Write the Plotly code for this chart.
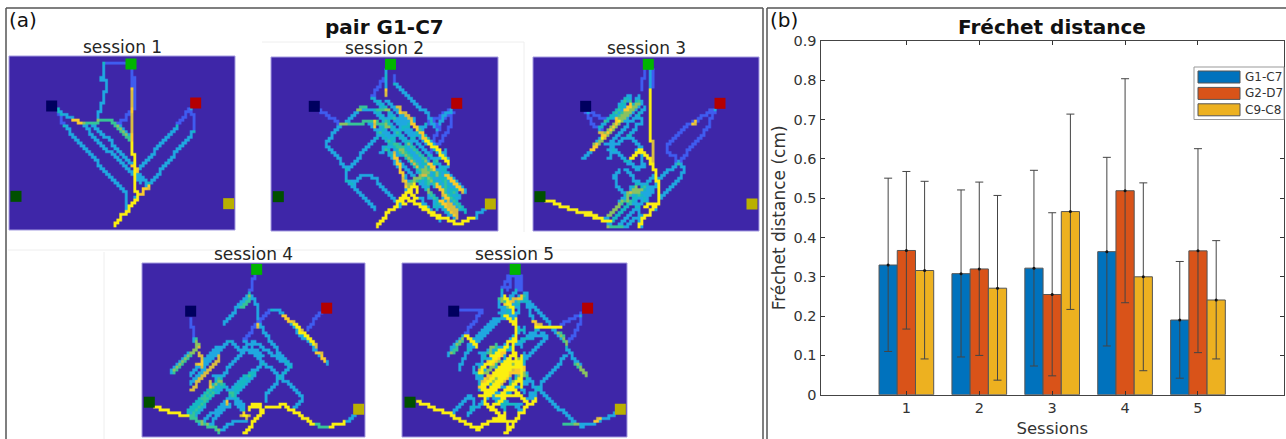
import plotly.graph_objects as go

W, H = 1286, 439
FONT = "DejaVu Sans"
TXT = "#333333"

# ---------- bar chart data ----------
SESSIONS = [1, 2, 3, 4, 5]
SERIES = ["G1-C7", "G2-D7", "C9-C8"]
SERIES_COL = ["#0072BD", "#D95319", "#EDB120"]
G1C7 = [0.330, 0.308, 0.322, 0.364, 0.190]
G2D7 = [0.367, 0.320, 0.255, 0.519, 0.366]
C9C8 = [0.316, 0.271, 0.466, 0.300, 0.241]
G1C7_LO = [0.110, 0.096, 0.073, 0.124, 0.042]
G2D7_LO = [0.167, 0.100, 0.048, 0.234, 0.107]
C9C8_LO = [0.091, 0.037, 0.217, 0.061, 0.091]
G1C7_HI = [0.551, 0.521, 0.571, 0.604, 0.339]
G2D7_HI = [0.568, 0.541, 0.463, 0.804, 0.626]
C9C8_HI = [0.543, 0.507, 0.714, 0.539, 0.392]
YTICKS = [0, 0.1, 0.2, 0.3, 0.4, 0.5, 0.6, 0.7, 0.8, 0.9]
YLABELS = ["0", "0.1", "0.2", "0.3", "0.4", "0.5", "0.6", "0.7", "0.8", "0.9"]

TARGET_NAMES = ["navy", "green", "red", "dkgreen", "olive"]
TARGET_COL = ["#00005F", "#00B400", "#B40000", "#005000", "#B9B000"]

S1_TARGETS = [(155, 318), (393, 192), (587, 309), (48, 589), (686, 611)]
S1_BLUE = [[(393, 208), (393, 265)], [(405, 235), (408, 310), (398, 335), (352, 378)], [(170, 330), (190, 380)],
           [(570, 325), (535, 380)], [(575, 330), (585, 395)], [(375, 190), (315, 192)]]
S1_CYAN = [[(315, 192), (315, 215), (305, 240), (318, 245), (315, 280), (305, 325), (290, 360)],
           [(190, 380), (375, 585), (375, 630)], [(170, 330), (240, 372), (420, 545)], [(280, 375), (445, 555)],
           [(535, 380), (415, 515)], [(585, 395), (440, 565), (405, 600)], [(352, 378), (395, 410), (395, 432)]]
S1_GREEN = [[(240, 372), (290, 368), (310, 358), (325, 360), (350, 382), (395, 432)]]
S1_ORANGE = [[(392, 265), (392, 430)], [(215, 358), (240, 372)], [(420, 582), (445, 555)], [(398, 495), (410, 515)]]
S1_YELLOW = [[(398, 432), (402, 510), (410, 600), (345, 678)]]

S2_TARGETS = [(163, 228), (392, 102), (591, 219), (55, 499), (692, 521)]
S2_BLUE = [[(178, 238), (245, 285)], [(380, 135), (335, 200)], [(405, 135), (405, 165)], [(577, 235), (500, 285)],
           [(577, 235), (530, 300)], [(580, 250), (565, 310), (490, 400)], [(560, 250), (520, 330)]]
S2_CYAN = [[(380, 120), (380, 175)], [(245, 285), (195, 345), (260, 415), (262, 455), (280, 458), (310, 432), (325, 432), (420, 525)],
           [(245, 285), (300, 235), (340, 235)], [(260, 415), (350, 320)], [(262, 455), (345, 540)],
           [(405, 165), (510, 265), (520, 290)], [(335, 205), (570, 400)], [(340, 240), (600, 500)], [(350, 215), (620, 490)],
           [(360, 290), (600, 540)], [(370, 350), (580, 560)], [(400, 340), (620, 545)], [(330, 280), (520, 470)],
           [(380, 360), (450, 470)], [(355, 250), (590, 480)], [(470, 450), (560, 360)], [(440, 480), (530, 390)],
           [(500, 460), (570, 390)], [(520, 530), (600, 470)], [(360, 370), (460, 260)], [(400, 380), (500, 280)],
           [(640, 560), (678, 535)], [(470, 500), (540, 570)], [(500, 480), (570, 565)], [(410, 345), (475, 410)],
           [(380, 215), (510, 340)], [(365, 310), (500, 450)], [(430, 350), (560, 480)], [(450, 340), (590, 500)], [(400, 260), (350, 320)],
           [(510, 425), (510, 500)], [(490, 440), (530, 540)], [(555, 420), (555, 530)], [(575, 500), (620, 550)], [(470, 290), (520, 345)]]
S2_GREEN = [[(240, 285), (290, 282), (330, 270), (385, 290)], [(290, 235), (320, 232)], [(350, 235), (390, 235)], [(440, 470), (500, 410)]]
S2_ORANGE = [[(380, 175), (380, 195)], [(410, 230), (440, 258), (470, 300)], [(400, 370), (440, 470)], [(530, 460), (590, 550)],
             [(340, 270), (345, 290)], [(480, 310), (500, 330)], [(510, 400), (520, 415)], [(560, 435), (610, 490)], [(540, 510), (590, 560)]]
S2_YELLOW = [[(350, 590), (415, 510), (440, 505), (500, 540), (570, 575), (600, 578), (640, 560)], [(500, 330), (565, 400)],
             [(415, 510), (465, 465), (470, 490)], [(445, 490), (470, 505)], [(420, 510), (440, 520)], [(480, 528), (540, 565)]]

S3_TARGETS = [(182, 228), (370, 102), (585, 219), (45, 499), (681, 521)]
S3_BLUE = [[(360, 120), (350, 175)], [(380, 120), (380, 170)], [(185, 245), (200, 285), (230, 295)], [(190, 245), (240, 270)],
           [(568, 235), (495, 285), (430, 350), (430, 365), (460, 400)], [(570, 235), (548, 300), (460, 400)]]
S3_CYAN = [[(460, 400), (405, 450)], [(460, 400), (480, 425), (405, 510)], [(375, 120), (375, 175)], [(175, 385), (350, 210)],
           [(210, 345), (345, 195)], [(220, 300), (310, 195)], [(240, 345), (360, 230)], [(245, 360), (310, 315), (350, 270), (340, 245)],
           [(310, 315), (350, 355)], [(265, 360), (330, 420), (355, 400), (345, 355)], [(250, 385), (265, 360)], [(300, 395), (345, 355)],
           [(285, 420), (265, 440), (275, 470), (340, 540), (350, 570)], [(240, 560), (340, 450)], [(260, 570), (370, 460)],
           [(285, 580), (385, 480)], [(245, 590), (390, 430)], [(300, 590), (330, 560), (350, 590)], [(300, 420), (355, 480)], [(320, 470), (390, 540)],
           [(225, 320), (335, 210)], [(195, 360), (330, 225)], [(330, 510), (390, 460)], [(265, 260), (315, 195)], [(240, 275), (300, 205)]]
S3_GREEN = [[(210, 345), (340, 215)], [(230, 320), (320, 215)], [(250, 590), (290, 590)], [(310, 490), (350, 480)], [(250, 555), (335, 470)]]
S3_ORANGE = [[(380, 335), (382, 390)], [(225, 310), (235, 325)], [(270, 265), (280, 275)], [(300, 235), (315, 220)], [(500, 280), (515, 270)], [(200, 355), (215, 340)]]
S3_YELLOW = [[(373, 175), (373, 330)], [(345, 355), (385, 410), (398, 460), (398, 520), (340, 590)], [(65, 510), (230, 570), (255, 570)],
             [(320, 380), (345, 355)], [(360, 525), (398, 520)], [(190, 550), (240, 572)]]

S4_TARGETS = [(182, 214), (380, 89), (590, 205), (58, 486), (686, 507)]
S4_BLUE = [[(373, 105), (362, 160)], [(183, 232), (188, 290)], [(572, 222), (535, 272)], [(425, 208), (385, 250), (340, 300)]]
S4_CYAN = [[(362, 160), (285, 250)], [(362, 165), (385, 210), (385, 240)], [(385, 250), (480, 385)], [(425, 208), (460, 225), (590, 375)],
           [(188, 295), (205, 320), (120, 400)], [(265, 320), (180, 410)], [(300, 305), (180, 430)], [(300, 305), (340, 340), (175, 520)],
           [(170, 520), (270, 410)], [(175, 522), (272, 414)], [(180, 525), (275, 420)], [(185, 526), (278, 425)], [(190, 525), (280, 430)],
           [(345, 320), (520, 470), (520, 485), (490, 500)], [(470, 400), (405, 465), (410, 485)], [(370, 305), (480, 385), (470, 400)],
           [(400, 375), (300, 470), (350, 530)], [(250, 410), (345, 510)], [(340, 305), (400, 350)], [(210, 550), (300, 470)], [(230, 555), (300, 490)],
           [(270, 570), (320, 540), (350, 540)], [(640, 545), (672, 525)], [(300, 455), (360, 395)], [(310, 465), (375, 400)], [(305, 445), (365, 390)]]
S4_GREEN = [[(330, 205), (360, 170)], [(180, 535), (270, 575)], [(550, 555), (600, 560)], [(195, 300), (205, 320)], [(205, 325), (130, 395)]]
S4_ORANGE = [[(460, 225), (560, 320)], [(180, 450), (270, 350)], [(210, 340), (213, 360)], [(200, 370), (215, 380)], [(245, 420), (245, 440)],
             [(290, 480), (288, 495)], [(340, 520), (350, 535)], [(380, 250), (385, 260)], [(560, 335), (585, 365)], [(335, 525), (355, 530)]]
S4_YELLOW = [[(345, 578), (375, 535), (395, 510), (375, 490), (360, 510)], [(410, 500), (460, 495), (500, 520), (550, 555)],
             [(600, 558), (640, 545)], [(75, 500), (120, 517), (175, 528)], [(385, 490), (400, 515)], [(490, 255), (550, 310)]]

S5_TARGETS = [(191, 214), (375, 89), (592, 205), (60, 486), (690, 507)]
S5_BLUE = [[(355, 105), (335, 155)], [(365, 105), (355, 150)], [(375, 105), (375, 155)], [(385, 105), (385, 150)], [(390, 105), (395, 150)],
           [(208, 212), (262, 208), (275, 220), (225, 285)], [(575, 220), (515, 255)], [(575, 225), (555, 290), (525, 320)]]
S5_CYAN = [[(225, 285), (175, 345)], [(525, 320), (585, 405)], [(530, 350), (420, 470)], [(400, 170), (520, 300)], [(335, 155), (330, 200), (380, 240)],
           [(340, 230), (225, 345), (210, 390)], [(320, 240), (230, 330)], [(400, 300), (460, 280), (470, 295), (390, 380)], [(450, 260), (390, 320)],
           [(400, 400), (450, 460), (550, 550), (575, 558), (615, 545), (675, 520)], [(180, 520), (230, 470), (255, 490), (230, 530)],
           [(260, 370), (360, 470)], [(270, 340), (400, 460)], [(260, 400), (350, 490)], [(290, 330), (400, 430)], [(265, 430), (340, 510)],
           [(300, 320), (400, 410)], [(270, 380), (390, 300)], [(380, 150), (345, 200)], [(410, 160), (345, 230)], [(400, 480), (440, 460)],
           [(275, 360), (285, 340)], [(400, 170), (440, 270)], [(310, 340), (400, 260)], [(265, 410), (370, 310)], [(270, 450), (400, 340)],
           [(300, 500), (410, 395)], [(340, 480), (345, 530)], [(360, 490), (400, 520)], [(240, 510), (290, 470)], [(320, 490), (390, 490)],
           [(250, 380), (270, 440)], [(390, 170), (380, 230)], [(395, 350), (410, 430)], [(350, 200), (400, 180)], [(330, 220), (400, 280)]]
S5_GREEN = [[(500, 275), (530, 310)], [(185, 335), (215, 300)], [(555, 375), (585, 405)], [(520, 555), (560, 555)], [(290, 340), (320, 310)],
            [(330, 180), (365, 210)], [(285, 395), (345, 335)], [(360, 430), (400, 395)], [(300, 420), (350, 380)], [(340, 400), (395, 350)]]
S5_ORANGE = [[(300, 370), (340, 330)], [(430, 245), (450, 260)], [(270, 390), (300, 360)], [(380, 400), (400, 380)], [(610, 545), (630, 535)],
             [(310, 400), (360, 350)], [(265, 440), (310, 395)], [(330, 430), (390, 370)], [(345, 190), (390, 170)]]
S5_YELLOW = [[(80, 485), (180, 525), (260, 565), (300, 540), (340, 520)], [(340, 470), (395, 465), (410, 500), (395, 520), (360, 570), (345, 578)],
             [(310, 510), (350, 550), (350, 580)], [(270, 470), (360, 385)], [(280, 440), (370, 360)], [(265, 400), (330, 330)], [(300, 350), (380, 290)],
             [(380, 240), (370, 340), (395, 400)], [(345, 230), (380, 265)], [(225, 285), (260, 320)], [(275, 430), (290, 500)], [(340, 170), (370, 220)],
             [(300, 440), (380, 370)], [(285, 470), (345, 410)], [(350, 440), (390, 470)], [(440, 258), (510, 258)], [(320, 490), (340, 470)], [(400, 500), (440, 475)],
             [(300, 500), (340, 470)], [(320, 470), (390, 410)], [(290, 420), (370, 340)], [(310, 540), (360, 540)], [(300, 510), (330, 520)], [(390, 350), (395, 440)]]

# Heat levels of a path, on the colour scale of the maps
LEVELS = [1, 2, 4, 6, 8]
PARULA = [[0, "#3E26A8"], [0.125, "#3F5CF0"], [0.25, "#1FA8E0"], [0.42, "#12BEB9"], [0.55, "#4CC880"],
          [0.68, "#B8BE48"], [0.82, "#FABA39"], [1, "#FBF010"]]
GRID_COLS, GRID_ROWS = 80, 61
UPSCALE = 2

SESSION_TITLES = ["session 1", "session 2", "session 3", "session 4", "session 5"]
PANEL_PX = [(9, 56, 235, 230), (271, 57, 498, 231), (533, 57, 759, 231), (142, 263, 365, 437), (402, 263, 627, 437)]
PANEL_WIN = [(27, 690, 705, 168), (33, 602, 715, 80), (24, 602, 702, 80), (36, 590, 705, 70), (36, 590, 710, 70)]
PANEL_TGT = [S1_TARGETS, S2_TARGETS, S3_TARGETS, S4_TARGETS, S5_TARGETS]
PANEL_PATHS = [
    [S1_BLUE, S1_CYAN, S1_GREEN, S1_ORANGE, S1_YELLOW],
    [S2_BLUE, S2_CYAN, S2_GREEN, S2_ORANGE, S2_YELLOW],
    [S3_BLUE, S3_CYAN, S3_GREEN, S3_ORANGE, S3_YELLOW],
    [S4_BLUE, S4_CYAN, S4_GREEN, S4_ORANGE, S4_YELLOW],
    [S5_BLUE, S5_CYAN, S5_GREEN, S5_ORANGE, S5_YELLOW],
]


def px(x):
    return x / W


def py(y):
    return 1 - y / H


def visits(groups, win):
    """Mark the read paths on a visit grid, one cell per path step."""
    xl, yb, xr, yt = win
    cw, ch = (xr - xl) / GRID_COLS, (yb - yt) / GRID_ROWS
    z = [[0] * GRID_COLS for _ in range(GRID_ROWS)]
    for group, level in zip(groups, LEVELS):
        for poly in group:
            seen = set()
            for (ax, ay), (bx, by) in zip(poly, poly[1:]):
                n = int(max(abs(bx - ax) / cw, abs(by - ay) / ch)) + 1
                prev = None
                for k in range(n + 1):
                    c = int((ax + (bx - ax) * k / n - xl) / cw)
                    r = int((ay + (by - ay) * k / n - yt) / ch)
                    cells = [(r, c)]
                    if prev and prev[0] != r and prev[1] != c:
                        cells.append((prev[0], c))  # paths move along grid edges
                    prev = (r, c)
                    for rr, cc in cells:
                        if 0 <= cc < GRID_COLS and 0 <= rr < GRID_ROWS:
                            seen.add((rr, cc))
            for r, c in seen:
                # a crossing only brightens a cell a little
                z[r][c] = max(z[r][c], level) + (1 if z[r][c] else 0)
    # repeat each cell so the browser's smoothing only softens its edge
    fine = [[v for v in row for _ in range(UPSCALE)] for row in z for _ in range(UPSCALE)]
    xs = [xl + (c + 0.5) * cw / UPSCALE for c in range(GRID_COLS * UPSCALE)]
    ys = [yt + (r + 0.5) * ch / UPSCALE for r in range(GRID_ROWS * UPSCALE)]
    return xs, ys, fine


fig = go.Figure()
shapes, annos = [], []

# ---------- right panel: bars ----------
means = [G1C7, G2D7, C9C8]
los = [G1C7_LO, G2D7_LO, C9C8_LO]
his = [G1C7_HI, G2D7_HI, C9C8_HI]
for name, col, vals in zip(SERIES, SERIES_COL, means):
    fig.add_bar(x=SESSIONS, y=vals, name=name, marker=dict(color=col, line=dict(color="#555555", width=1)),
                showlegend=False, xaxis="x", yaxis="y")
OFFSET = [-0.25, 0, 0.25]
for off, vals, lo, hi in zip(OFFSET, means, los, his):
    fig.add_scatter(x=[s + off for s in SESSIONS], y=vals, mode="markers", showlegend=False,
                    marker=dict(color="#111111", size=3),
                    error_y=dict(type="data", symmetric=False,
                                 array=[h - v for h, v in zip(hi, vals)],
                                 arrayminus=[v - l for l, v in zip(lo, vals)],
                                 color="#444444", thickness=1, width=4),
                    xaxis="x", yaxis="y")

layout_axes = dict(
    xaxis=dict(domain=[px(820.5), px(1284)], range=[-0.178, 6.18], anchor="y", tickvals=SESSIONS, automargin=False,
               ticks="inside", ticklen=4, tickcolor="#333", showline=True, linecolor="#444", mirror="ticks",
               showgrid=False, zeroline=False, tickfont=dict(family=FONT, size=14.5, color=TXT),
               title=dict(text="Sessions", font=dict(family=FONT, size=16.5, color=TXT), standoff=7)),
    yaxis=dict(domain=[py(394.7), py(41)], range=[0, 0.9], anchor="x", tickvals=YTICKS, ticktext=YLABELS, automargin=False,
               ticks="inside", ticklen=4, tickcolor="#333", showline=True, linecolor="#444", mirror="ticks",
               showgrid=False, zeroline=False, tickfont=dict(family=FONT, size=14.5, color=TXT),
               title=dict(text="Fréchet distance (cm)", font=dict(family=FONT, size=17, color=TXT), standoff=3)),
)

# legend box drawn to match the source swatches
LEG_BOX = (1194, 67, 1284, 119.5)
shapes.append(dict(type="rect", xref="paper", yref="paper", x0=px(LEG_BOX[0]), x1=px(LEG_BOX[2]), y0=py(LEG_BOX[1]), y1=py(LEG_BOX[3]),
                   line=dict(color="#999999", width=1), fillcolor="white", layer="above"))
for i, (name, col) in enumerate(zip(SERIES, SERIES_COL)):
    yc = 77 + i * 16.4
    shapes.append(dict(type="rect", xref="paper", yref="paper", x0=px(1198), x1=px(1240), y0=py(yc - 6), y1=py(yc + 6),
                       line=dict(color="#555555", width=1), fillcolor=col, layer="above"))
    annos.append(dict(text=name, xref="paper", yref="paper", x=px(1243), y=py(yc), xanchor="left", yanchor="middle",
                      showarrow=False, font=dict(family=FONT, size=12, color=TXT)))

# ---------- left panel: maps ----------
for i in range(5):
    ax = i + 2
    x0, y0, x1, y1 = PANEL_PX[i]
    xl, yb, xr, yt = PANEL_WIN[i]
    layout_axes[f"xaxis{ax}"] = dict(domain=[px(x0), px(x1)], range=[xl, xr], anchor=f"y{ax}", visible=False, fixedrange=True, automargin=False)
    layout_axes[f"yaxis{ax}"] = dict(domain=[py(y1), py(y0)], range=[yb, yt], anchor=f"x{ax}", visible=False, fixedrange=True, automargin=False)
    xs, ys, z = visits(PANEL_PATHS[i], PANEL_WIN[i])
    fig.add_heatmap(x=xs, y=ys, z=z, zmin=0, zmax=8, colorscale=PARULA, showscale=False, zsmooth="fast",
                    hoverinfo="skip", xaxis=f"x{ax}", yaxis=f"y{ax}")
    fig.add_scatter(x=[p[0] for p in PANEL_TGT[i]], y=[p[1] for p in PANEL_TGT[i]], mode="markers", text=TARGET_NAMES,
                    marker=dict(symbol="square", size=11, color=TARGET_COL, line=dict(width=0)), showlegend=False,
                    xaxis=f"x{ax}", yaxis=f"y{ax}")
    shapes.append(dict(type="rect", xref="paper", yref="paper", x0=px(x0), x1=px(x1), y0=py(y1), y1=py(y0),
                       line=dict(color="#A49BE0", width=1), fillcolor="rgba(0,0,0,0)", layer="above"))
    annos.append(dict(text=SESSION_TITLES[i], xref="paper", yref="paper", x=px((x0 + x1) / 2), y=py(y0 - 9),
                      xanchor="center", yanchor="middle", showarrow=False, font=dict(family=FONT, size=17, color="#262626")))

annos.append(dict(text="(a)", xref="paper", yref="paper", x=px(7), y=py(20), xanchor="left", yanchor="middle",
                  showarrow=False, font=dict(family=FONT, size=20, color="#111111")))
annos.append(dict(text="(b)", xref="paper", yref="paper", x=px(768), y=py(20), xanchor="left", yanchor="middle",
                  showarrow=False, font=dict(family=FONT, size=20, color="#111111")))
annos.append(dict(text="<b>pair G1-C7</b>", xref="paper", yref="paper", x=px(384), y=py(27), xanchor="center", yanchor="middle",
                  showarrow=False, font=dict(family=FONT, size=20, color="#111111")))

# frames and faint scan edges
FRAME_LINES = [(6, 8, 763, 8), (6, 8, 6, 439), (763, 8, 763, 439), (767, 8, 767, 439), (767, 8, 1286, 8)]
FAINT_LINES = [(262, 42, 524, 42), (524, 42, 524, 232), (8, 250, 650, 250), (104, 252, 104, 439)]
for a, b, c, d in FRAME_LINES:
    shapes.append(dict(type="line", xref="paper", yref="paper", x0=px(a), x1=px(c), y0=py(b), y1=py(d), line=dict(color="#555555", width=1.5)))
for a, b, c, d in FAINT_LINES:
    shapes.append(dict(type="line", xref="paper", yref="paper", x0=px(a), x1=px(c), y0=py(b), y1=py(d), line=dict(color="#EEEEEE", width=1), layer="below"))

fig.update_layout(
    width=W, height=H, margin=dict(l=0, r=0, t=0, b=0, pad=0), paper_bgcolor="white", plot_bgcolor="white",
    barmode="group", bargap=0.25, bargroupgap=0, showlegend=False, shapes=shapes, annotations=annos,
    title=dict(text="<b>Fréchet distance</b>", x=px(1052), y=py(27), xanchor="center", yanchor="middle",
               font=dict(family=FONT, size=20, color="#111111"), automargin=False),
    **layout_axes,
)
fig.write_html("out.html", config={"displayModeBar": False},
               post_script="document.body.style.margin='0';document.documentElement.style.overflow='hidden';")
